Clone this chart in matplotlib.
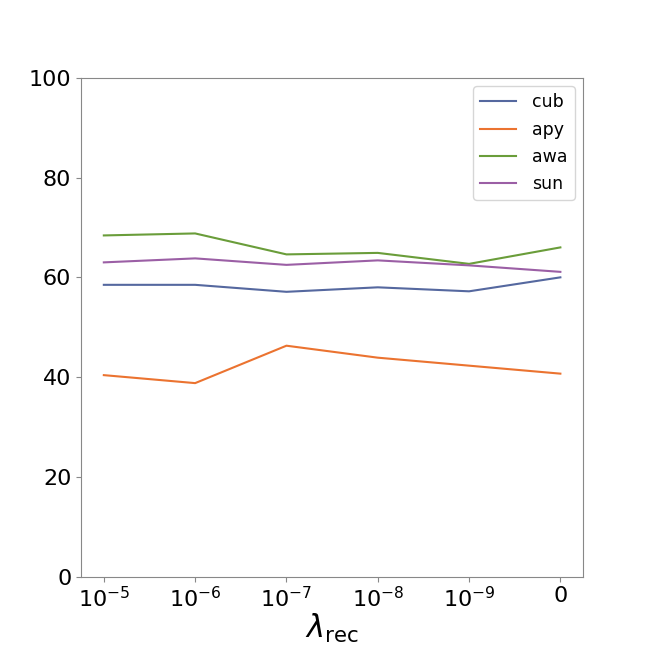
import numpy as np
import matplotlib
matplotlib.use('Agg')
import matplotlib.pyplot as plt

# lambda_rec sweep, accuracy per dataset
tick_labels = [r'$10^{-5}$', r'$10^{-6}$', r'$10^{-7}$', r'$10^{-8}$', r'$10^{-9}$', '0']
cub = [58.5, 58.5, 57.1, 58.0, 57.2, 60.0]
apy = [40.4, 38.8, 46.3, 43.9, 42.3, 40.7]
awa = [68.4, 68.8, 64.6, 64.9, 62.7, 66.0]
sun = [63.0, 63.8, 62.5, 63.4, 62.4, 61.1]

x = np.arange(len(tick_labels))

fig, ax = plt.subplots(figsize=(6.48, 6.48), dpi=100)
ax.plot(x, cub, color='#55689f', lw=1.5, label='cub')
ax.plot(x, apy, color='#eb7330', lw=1.5, label='apy')
ax.plot(x, awa, color='#6a9d3a', lw=1.5, label='awa')
ax.plot(x, sun, color='#9b5fa5', lw=1.5, label='sun')

ax.set_ylim(0, 100)
ax.set_xticks(x)
ax.set_xticklabels(tick_labels)
ax.tick_params(labelsize=16, color='#888888')
for s in ax.spines.values():
    s.set_color('#888888')
ax.set_xlabel(r'$\lambda_{\rm rec}$', fontsize=22, labelpad=0)
ax.legend(loc='upper right', fontsize=12.5, labelspacing=0.53,
          handlelength=2.1, handletextpad=0.9)

plt.savefig('out.png')
